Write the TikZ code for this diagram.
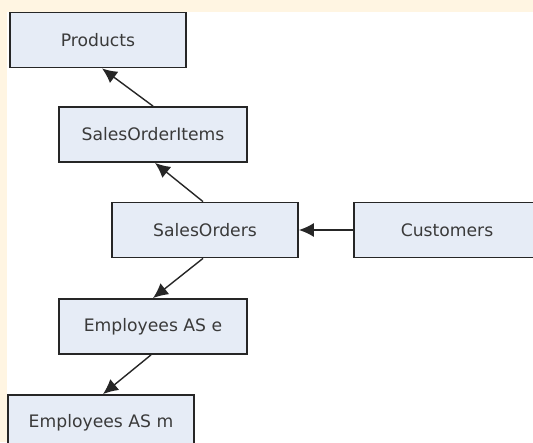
\documentclass[tikz,border=0pt]{standalone}
\usepackage{fontspec}
\setmainfont{DejaVu Sans}
\usetikzlibrary{arrows.meta}
\definecolor{cream}{HTML}{FFF5E2}
\definecolor{boxfill}{HTML}{E6ECF6}
\definecolor{boxline}{HTML}{262626}
\definecolor{txt}{HTML}{3A3A3A}
\begin{document}
\begin{tikzpicture}[x=1pt,y=-1pt,
  tbl/.style={draw=boxline, line width=1.8pt, fill=boxfill, rectangle,
    minimum height=55pt, inner sep=0pt, text=txt,
    font=\fontsize{17.2}{20}\selectfont},
  link/.style={draw=black!85, line width=1.4pt,
    -{Latex[length=15pt,width=14pt]}}]
  % page background and canvas
  \useasboundingbox (0,0) rectangle (533,442);
  \clip (0,0) rectangle (533,442);
  \fill[cream] (0,0) rectangle (533,442);
  \fill[white] (7,12) rectangle (533,442);

  % tables
  \node[tbl, minimum width=176pt] (prod) at (98,40) {Products};
  \node[tbl, minimum width=188pt] (soi)  at (153,134.5) {SalesOrderItems};
  \node[tbl, minimum width=186pt] (so)   at (205,230) {SalesOrders};
  \node[tbl, minimum width=186pt] (cust) at (447,230) {Customers};
  \node[tbl, minimum width=188pt] (empe) at (153,326.5) {Employees AS e};
  \node[tbl, minimum width=186pt] (empm) at (101,422.5) {Employees AS m};

  % joins
  \draw[link] (soi.north) -- ([xshift=4pt]prod.south);
  \draw[link] ([xshift=-2pt]so.north) -- ([xshift=2pt]soi.south);
  \draw[link] (cust.west) -- (so.east);
  \draw[link] ([xshift=-2pt]so.south) -- (empe.north);
  \draw[link] ([xshift=-2pt]empe.south) -- ([xshift=2pt]empm.north);
\end{tikzpicture}
\end{document}
